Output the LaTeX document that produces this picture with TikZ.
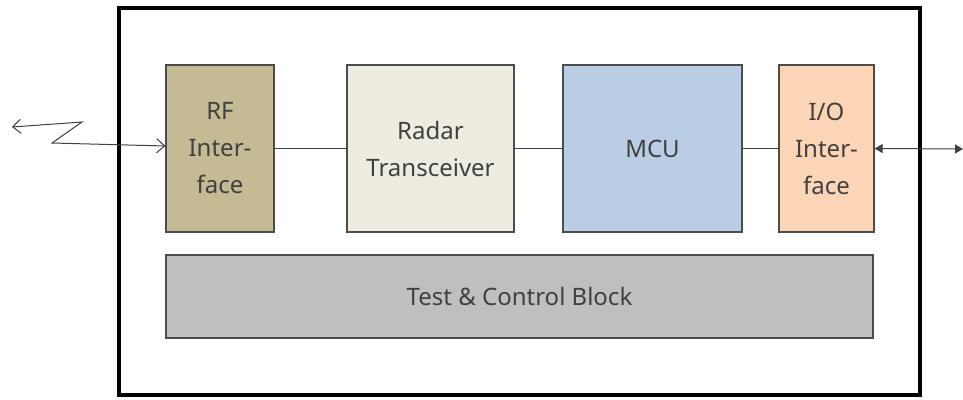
\documentclass[tikz,border=0pt]{standalone}
\usepackage{fontspec}
\setmainfont{Noto Sans}
\usetikzlibrary{arrows.meta}
\definecolor{rfc}{HTML}{C4BB94}
\definecolor{radc}{HTML}{EEECE1}
\definecolor{mcuc}{HTML}{B9CDE5}
\definecolor{ioc}{HTML}{FBD5B5}
\definecolor{tstc}{HTML}{BFBFBF}
\definecolor{txt}{HTML}{404040}
\begin{document}
\begin{tikzpicture}[x=1pt,y=-1pt,
  blk/.style={draw=black!70,line width=1.2pt,inner sep=0pt,text=txt,align=center,font=\fontsize{24}{37}\selectfont},
  conn/.style={draw=black!75,line width=1pt}]
\useasboundingbox (0,0) rectangle (963,399);
\draw[line width=3.5pt] (119,8) rectangle (920,395);
\node[blk,fill=rfc,minimum width=108pt,minimum height=167pt] (rf) at (220,148.5) {RF\\Inter-\\face};
\node[blk,fill=radc,minimum width=167pt,minimum height=167pt] (rad) at (430.5,148.5) {Radar\\Transceiver};
\node[blk,fill=mcuc,minimum width=179pt,minimum height=167pt] (mcu) at (652.5,148.5) {MCU};
\node[blk,fill=ioc,minimum width=95pt,minimum height=167pt] (io) at (826.5,148.5) {I/O\\Inter-\\face};
\node[blk,fill=tstc,minimum width=707pt,minimum height=83pt] (tst) at (519.5,296.5) {Test \& Control Block};
\draw[conn] (rf) -- (rad);
\draw[conn] (rad) -- (mcu);
\draw[conn] (mcu) -- (io);
\coordinate (ant) at (12,127);
\coordinate (z1) at (82,122);
\coordinate (z2) at (52,143);
\coordinate (ext) at (963,149);
\draw[conn,{Straight Barb[length=8pt,width=14pt]}-{Straight Barb[length=8pt,width=14pt]}] (ant) -- (z1) -- (z2) -- (rf.west |- 0,146);
\draw[conn,{Triangle[length=8pt,width=9pt]}-{Triangle[length=8pt,width=9pt]}] (io.east) -- (ext);
\end{tikzpicture}
\end{document}
